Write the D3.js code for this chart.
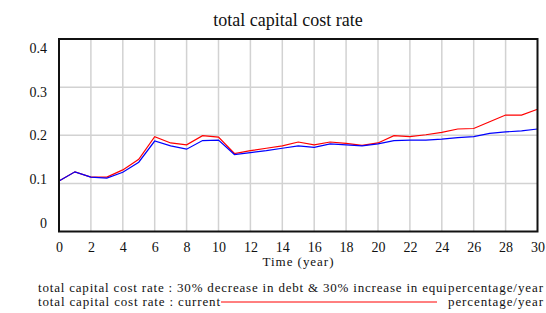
<!DOCTYPE html>
<html>
<head>
<meta charset="utf-8">
<script src="https://cdn.jsdelivr.net/npm/d3@7"></script>
<style>
  body { margin: 0; background: #fff; }
  svg text { font-family: "Liberation Serif", "Times New Roman", "DejaVu Serif", serif; fill: #111; }
</style>
</head>
<body>
<svg id="chart"></svg>
<script>
// Chart size
const width = 546;
const height = 313;
const serif = '"Liberation Serif", "Times New Roman", serif';

// Data
const years = d3.range(0, 31);
const scenarioRate = [0.105, 0.124, 0.113, 0.111, 0.123, 0.144, 0.188, 0.178, 0.171, 0.189,
  0.190, 0.160, 0.164, 0.168, 0.173, 0.178, 0.175, 0.182, 0.180, 0.178,
  0.182, 0.189, 0.190, 0.190, 0.192, 0.195, 0.197, 0.204, 0.207, 0.209, 0.213];
const currentRate = [0.105, 0.124, 0.113, 0.113, 0.128, 0.150, 0.197, 0.184, 0.180, 0.199,
  0.196, 0.162, 0.168, 0.173, 0.178, 0.186, 0.180, 0.186, 0.183, 0.179,
  0.184, 0.199, 0.197, 0.201, 0.206, 0.213, 0.214, 0.228, 0.242, 0.242, 0.254];
const xTicks = d3.range(0, 31, 2);
const yTicks = [0, 0.1, 0.2, 0.3, 0.4];
const yGrid = [0.1, 0.2, 0.3];

const title = "total capital cost rate";
const xTitle = "Time (year)";
const legendRows = [
  { label: "total capital cost rate : 30% decrease in debt & 30% increase in equi", unit: "percentage/year", color: "blue", showLine: false, labelWidth: 409 },
  { label: "total capital cost rate : current", unit: "percentage/year", color: "red", showLine: true, labelWidth: 182 }
];

// Scales
const x = d3.scaleLinear().domain([0, 30]).range([59, 537.5]);
const y = d3.scaleLinear().domain([0, 0.4]).range([231.5, 39]);
// y tick labels sit a little inside the gridlines in the original
const yLabel = d3.scaleLinear().domain([0, 0.4]).range([223, 48]);

const svg = d3.select('#chart')
  .attr('width', width)
  .attr('height', height);

// Title
svg.append('text')
  .attr('x', 288)
  .attr('y', 26)
  .attr('text-anchor', 'middle')
  .attr('font-family', serif)
  .style('font-size', '18px')
  .text(title);

// Gridlines
svg.append('g')
  .selectAll('line')
  .data(xTicks.slice(1, -1))
  .enter().append('line')
  .attr('x1', d => x(d)).attr('x2', d => x(d))
  .attr('y1', y(0)).attr('y2', y(0.4))
  .style('stroke', '#d2d2d2')
  .style('stroke-width', 1.5);

svg.append('g')
  .selectAll('line')
  .data(yGrid)
  .enter().append('line')
  .attr('x1', x(0)).attr('x2', x(30))
  .attr('y1', d => y(d)).attr('y2', d => y(d))
  .style('stroke', '#d2d2d2')
  .style('stroke-width', 1.5);

// X axis labels
const xAxis = d3.axisBottom(x).tickValues(xTicks).tickSize(0).tickPadding(11);
svg.append('g')
  .attr('transform', 'translate(0,' + y(0) + ')')
  .call(xAxis)
  .attr('font-family', serif)
  .call(g => g.select('.domain').remove())
  .selectAll('text')
  .style('font-size', '14px');

// Y axis labels
const yAxis = d3.axisLeft(yLabel).tickValues(yTicks).tickSize(0).tickPadding(0)
  .tickFormat(d => d === 0 ? '0' : d3.format('.1f')(d));
svg.append('g')
  .attr('transform', 'translate(47,0)')
  .call(yAxis)
  .attr('font-family', serif)
  .call(g => g.select('.domain').remove())
  .selectAll('text')
  .style('font-size', '14px');

// X title
svg.append('text')
  .attr('x', 298)
  .attr('y', 266)
  .attr('text-anchor', 'middle')
  .attr('font-family', serif)
  .style('font-size', '13px')
  .attr('textLength', 71)
  .attr('lengthAdjust', 'spacing')
  .text(xTitle);

// Lines
const line = d3.line()
  .x((d, i) => x(years[i]))
  .y(d => y(d));

svg.append('path')
  .datum(currentRate)
  .attr('d', line)
  .style('fill', 'none')
  .style('stroke', 'red')
  .style('stroke-width', 1.2);

svg.append('path')
  .datum(scenarioRate)
  .attr('d', line)
  .style('fill', 'none')
  .style('stroke', 'blue')
  .style('stroke-width', 1.2);

// Frame
svg.append('rect')
  .attr('x', x(0))
  .attr('y', y(0.4))
  .attr('width', x(30) - x(0))
  .attr('height', y(0) - y(0.4))
  .style('fill', 'none')
  .style('stroke', '#111')
  .style('stroke-width', 2);

// Legend
const legend = svg.append('g')
  .selectAll('g')
  .data(legendRows)
  .enter().append('g')
  .attr('transform', (d, i) => 'translate(0,' + (292 + i * 14) + ')');

legend.filter(d => d.showLine).append('line')
  .attr('x1', 221).attr('x2', 437)
  .attr('y1', -4).attr('y2', -4)
  .style('stroke', d => d.color)
  .style('stroke-width', 1);

legend.append('text')
  .attr('x', 38)
  .attr('font-family', serif)
  .style('font-size', '13px')
  .attr('textLength', d => d.labelWidth)
  .attr('lengthAdjust', 'spacing')
  .text(d => d.label);

legend.append('text')
  .attr('x', 543)
  .attr('text-anchor', 'end')
  .attr('font-family', serif)
  .style('font-size', '13px')
  .attr('textLength', 95)
  .attr('lengthAdjust', 'spacing')
  .text(d => d.unit);
</script>
</body>
</html>
